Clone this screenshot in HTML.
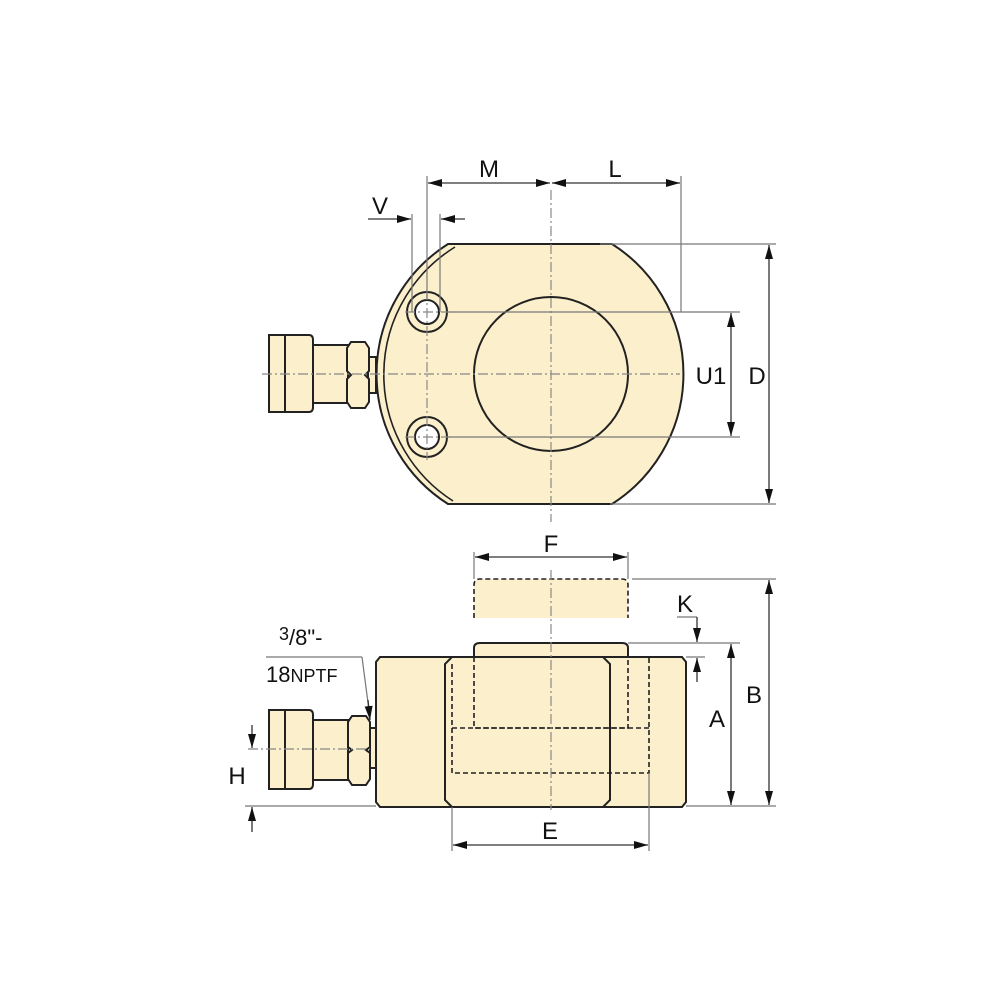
<!DOCTYPE html>
<html><head><meta charset="utf-8"><style>html,body{margin:0;background:#fff}svg{display:block}text{font-family:"Liberation Sans",sans-serif;fill:#111}</style></head><body>
<svg width="1000" height="1000" viewBox="0 0 1000 1000" xmlns="http://www.w3.org/2000/svg">
<defs>
<marker id="a" viewBox="0 0 14 8" refX="14" refY="4" markerWidth="14" markerHeight="8" markerUnits="userSpaceOnUse" orient="auto-start-reverse"><path d="M0,0 L14,4 L0,8z" fill="#111"/></marker>
</defs>
<g fill="#fcefcb" stroke="#222" stroke-width="2">
<!-- top view body -->
<path d="M448,244 L612,244 A154,154 0 0 1 612,504 L448,504 A154,154 0 0 1 448,244Z"/>
<path d="M455,247 A150,150 0 0 0 453,501" fill="none" stroke-width="1.6"/>
<circle cx="551" cy="374" r="77"/>
<circle cx="427" cy="312" r="20"/><circle cx="427" cy="312" r="12" fill="#fff"/>
<circle cx="427" cy="437" r="20"/><circle cx="427" cy="437" r="12" fill="#fff"/>
<!-- top fitting -->
<rect x="368" y="357" width="8" height="36"/>
<path d="M269,335 H309 Q313,335 313,340 V407 Q313,412 309,412 H269Z"/>
<line x1="285" y1="335" x2="285" y2="412"/>
<rect x="313" y="345" width="35" height="58"/>
<path d="M351,342 H365 L369,348 V371 L365,375 L369,379 V402 L365,408 H351 L347,402 V379 L351,375 L347,371 V348Z"/>
<!-- bottom view -->
<path d="M474,657 V648 Q474,643 480,643 H622 Q628,643 628,648 V657"/>
<path d="M380,657 H682 L686,662 V802 L682,807 H380 L376,802 V662Z"/>
<path d="M452,657 L445,664 V800 L452,807 M603,657 L610,664 V800 L603,807" fill="none"/>
<rect x="370" y="728" width="6" height="40"/>
<path d="M269,710 H309 Q313,710 313,715 V784 Q313,789 309,789 H269Z"/>
<line x1="285" y1="710" x2="285" y2="789"/>
<rect x="313" y="720" width="35" height="60"/>
<path d="M352,716 H366 L370,722 V747 L366,750 L370,753 V779 L366,785 H352 L348,779 V753 L352,750 L348,747 V722Z"/>
</g>
<path d="M474,618 V585 Q474,579 480,579 H622 Q628,579 628,585 V618Z" fill="#fcefcb"/>
<!-- dashed hidden lines -->
<g fill="none" stroke="#222" stroke-width="1.6" stroke-dasharray="5,3">
<path d="M474,657 V728 H628 V657"/>
<path d="M452,664 V773 H649 V657"/>
<line x1="452" y1="728" x2="649" y2="728"/>
<path d="M474,618 V585 Q474,579 480,579 H622 Q628,579 628,585 V618"/>
</g>
<!-- centerlines -->
<g stroke="#888" stroke-width="1.2" stroke-dasharray="10,3,2,3" fill="none">
<line x1="551" y1="190" x2="551" y2="522"/>
<line x1="262" y1="374" x2="680" y2="374"/>
<line x1="427" y1="290" x2="427" y2="460"/>
<line x1="405" y1="312" x2="449" y2="312"/>
<line x1="405" y1="437" x2="449" y2="437"/>
<line x1="551" y1="570" x2="551" y2="810"/>
<line x1="248" y1="749" x2="370" y2="749"/>
</g>
<!-- extension lines -->
<g stroke="#777" stroke-width="1.2" fill="none">
<line x1="427" y1="176" x2="427" y2="300"/><line x1="681" y1="176" x2="681" y2="312"/>
<line x1="412" y1="214" x2="412" y2="312"/><line x1="440" y1="214" x2="440" y2="312"/>
<line x1="447" y1="312" x2="740" y2="312"/><line x1="447" y1="437" x2="740" y2="437"/>
<line x1="600" y1="244" x2="776" y2="244"/><line x1="610" y1="504" x2="776" y2="504"/>
<line x1="474" y1="552" x2="474" y2="579"/><line x1="628" y1="552" x2="628" y2="579"/>
<line x1="632" y1="579" x2="776" y2="579"/><line x1="686" y1="806" x2="776" y2="806"/>
<line x1="628" y1="643" x2="740" y2="643"/><line x1="686" y1="657" x2="705" y2="657"/>
<line x1="677" y1="617" x2="697" y2="617"/>
<line x1="452" y1="807" x2="452" y2="851"/><line x1="649" y1="773" x2="649" y2="851"/>
<line x1="245" y1="806" x2="376" y2="806"/>
<line x1="266" y1="657" x2="362" y2="657"/><line x1="362" y1="657" x2="370" y2="718"/>
</g>
<!-- dimension lines -->
<g stroke="#333" stroke-width="1.3" fill="none">
<line x1="428" y1="183" x2="550" y2="183" marker-start="url(#a)" marker-end="url(#a)"/>
<line x1="552" y1="183" x2="680" y2="183" marker-start="url(#a)" marker-end="url(#a)"/>
<line x1="368" y1="219" x2="411" y2="219" marker-end="url(#a)"/>
<line x1="465" y1="219" x2="441" y2="219" marker-end="url(#a)"/>
<line x1="731" y1="313" x2="731" y2="436" marker-start="url(#a)" marker-end="url(#a)"/>
<line x1="769" y1="245" x2="769" y2="503" marker-start="url(#a)" marker-end="url(#a)"/>
<line x1="475" y1="557" x2="627" y2="557" marker-start="url(#a)" marker-end="url(#a)"/>
<line x1="769" y1="580" x2="769" y2="805" marker-start="url(#a)" marker-end="url(#a)"/>
<line x1="731" y1="644" x2="731" y2="805" marker-start="url(#a)" marker-end="url(#a)"/>
<line x1="697" y1="617" x2="697" y2="642" marker-end="url(#a)"/>
<line x1="697" y1="682" x2="697" y2="658" marker-end="url(#a)"/>
<line x1="453" y1="845" x2="648" y2="845" marker-start="url(#a)" marker-end="url(#a)"/>
<line x1="252" y1="725" x2="252" y2="748" marker-end="url(#a)"/>
<line x1="252" y1="832" x2="252" y2="807" marker-end="url(#a)"/>
<line x1="368" y1="700" x2="370" y2="720" marker-end="url(#a)"/>
</g>
<g font-size="24" text-anchor="middle">
<text x="489" y="177">M</text><text x="615" y="177">L</text>
<text x="380" y="214">V</text>
<text x="711" y="384">U1</text><text x="757" y="384">D</text>
<text x="551" y="552">F</text><text x="685" y="612">K</text>
<text x="754" y="703">B</text><text x="717" y="727">A</text>
<text x="550" y="839">E</text><text x="237" y="784">H</text>
</g>
<text x="279" y="645" font-size="22"><tspan font-size="18" dy="-5">3</tspan><tspan dy="5">/8"-</tspan></text>
<text x="266" y="682" font-size="22">18<tspan font-size="18">NPTF</tspan></text>
</svg>
</body></html>
